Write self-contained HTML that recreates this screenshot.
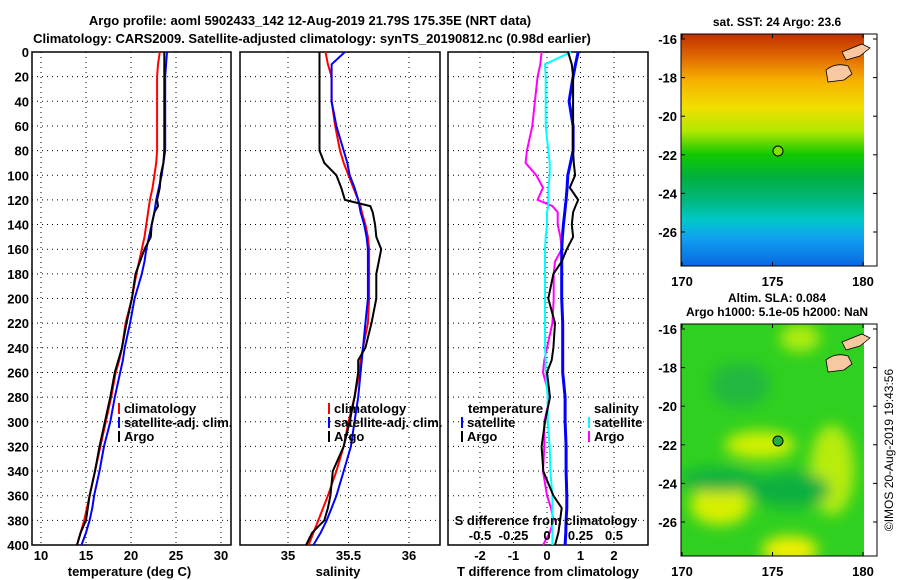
<!DOCTYPE html>
<html><head><meta charset="utf-8"><style>
body{margin:0;background:#fff;}
svg{display:block;font-family:"Liberation Sans",sans-serif;font-weight:bold;}
</style></head><body>
<svg id="c" width="900" height="580" xmlns="http://www.w3.org/2000/svg">
<defs>
<linearGradient id="sst" x1="0" y1="0" x2="0" y2="1">
<stop offset="0" stop-color="#c03000"/><stop offset="0.1" stop-color="#e06a00"/>
<stop offset="0.2" stop-color="#f8b000"/><stop offset="0.32" stop-color="#f0e000"/>
<stop offset="0.42" stop-color="#b0e800"/><stop offset="0.52" stop-color="#10c800"/>
<stop offset="0.62" stop-color="#00b040"/><stop offset="0.72" stop-color="#00b880"/>
<stop offset="0.8" stop-color="#00c8c8"/><stop offset="0.88" stop-color="#10a0f0"/>
<stop offset="1" stop-color="#0868e0"/></linearGradient>
<filter id="bl"><feGaussianBlur stdDeviation="7"/></filter>
<clipPath id="m2c"><rect x="681" y="324" width="183" height="232"/></clipPath>
</defs>
<text x="310" y="25" font-size="13" text-anchor="middle">Argo profile: aoml 5902433_142 12-Aug-2019 21.79S 175.35E (NRT data)</text>
<text x="312" y="43" font-size="13" text-anchor="middle">Climatology: CARS2009. Satellite-adjusted climatology: synTS_20190812.nc (0.98d earlier)</text>
<g id="plots"></g>
<g>
<text x="777" y="26" font-size="12" text-anchor="middle">sat. SST: 24 Argo: 23.6</text>
<rect x="681" y="34" width="183" height="232" fill="url(#sst)"/>
<path d="M826 70 q10-8 22-4 l4 8 -8 6 -16 2z M842 52 l20-8 8 4-10 8-14 4z" fill="#f8c8a0" stroke="#000" stroke-width="0.8"/>
<circle cx="778" cy="151" r="5" fill="#80e000" stroke="#000"/>
<rect x="681" y="34" width="196" height="232" fill="none" stroke="#000"/>
</g>
<g>
<text x="777" y="302" font-size="12" text-anchor="middle">Altim. SLA: 0.084</text>
<text x="777" y="316" font-size="12" text-anchor="middle">Argo h1000: 5.1e-05 h2000: NaN</text>
<rect x="681" y="324" width="183" height="232" fill="#30d020"/>
<g clip-path="url(#m2c)" filter="url(#bl)">
<ellipse cx="760" cy="445" rx="35" ry="14" fill="#d0f000"/>
<ellipse cx="832" cy="470" rx="22" ry="45" fill="#b8ec10"/>
<ellipse cx="720" cy="505" rx="30" ry="20" fill="#d8f000"/>
<ellipse cx="790" cy="550" rx="28" ry="14" fill="#f0f000"/>
<ellipse cx="800" cy="338" rx="20" ry="14" fill="#b0ec10"/>
<ellipse cx="720" cy="480" rx="40" ry="12" fill="#10b040"/>
<ellipse cx="790" cy="490" rx="40" ry="18" fill="#10b040"/>
<ellipse cx="740" cy="385" rx="30" ry="22" fill="#20b840"/>
</g>
<path d="M826 360 q10-8 22-4 l4 8 -8 6 -16 2z M842 342 l20-8 8 4-10 8-14 4z" fill="#f8c8a0" stroke="#000" stroke-width="0.8"/>
<circle cx="778" cy="441" r="5" fill="#20b040" stroke="#000"/>
<rect x="681" y="324" width="196" height="232" fill="none" stroke="#000"/>
</g>
<text transform="translate(893,450) rotate(-90)" font-size="12" font-weight="normal" text-anchor="middle">©IMOS 20-Aug-2019 19:43:56</text>
</svg>
<script>
const depths=[0,10,20,40,60,80,90,100,110,120,125,130,140,150,160,170,180,200,220,240,250,260,280,300,320,340,360,370,380,390,400];
const tClim=[23.2,23.0,22.9,22.9,22.9,22.9,22.8,22.6,22.4,22.1,22.0,21.9,21.7,21.5,21.2,20.9,20.6,20.1,19.4,19.0,18.7,18.3,17.8,17.2,16.6,16.0,15.4,15.1,14.8,14.4,14.0];
const tSat=[24.0,23.9,23.8,23.8,23.8,23.8,23.6,23.4,23.1,22.8,22.7,22.6,22.3,22.0,21.7,21.5,21.2,20.4,19.9,19.3,19.1,18.8,18.2,17.7,17.0,16.5,15.9,15.7,15.4,15.0,14.5];
const tArgo=[23.7,23.7,23.7,23.7,23.7,23.7,23.6,23.3,23.2,22.9,23.0,22.6,22.3,22.2,21.5,21.0,20.5,20.1,19.5,19.0,18.6,18.2,17.7,17.1,16.5,16.0,15.4,15.2,15.0,14.4,14.0];
const sClim=[35.31,35.33,35.36,35.36,35.39,35.43,35.46,35.50,35.54,35.58,35.60,35.61,35.64,35.66,35.67,35.67,35.67,35.67,35.66,35.62,35.60,35.59,35.55,35.50,35.46,35.40,35.33,35.29,35.25,35.21,35.17];
const sSat=[35.47,35.36,35.36,35.36,35.40,35.46,35.49,35.51,35.55,35.58,35.59,35.60,35.63,35.65,35.66,35.66,35.66,35.66,35.64,35.62,35.61,35.60,35.58,35.55,35.52,35.46,35.40,35.36,35.32,35.27,35.21];
const sArgo=[35.26,35.26,35.26,35.26,35.26,35.26,35.30,35.40,35.44,35.47,35.68,35.70,35.72,35.73,35.77,35.75,35.73,35.73,35.69,35.64,35.58,35.58,35.55,35.51,35.46,35.37,35.35,35.33,35.30,35.20,35.15];
const dTSat=[0.93,0.85,0.78,0.66,0.78,0.78,0.70,0.62,0.60,0.57,0.55,0.53,0.49,0.46,0.44,0.44,0.44,0.44,0.47,0.47,0.47,0.47,0.54,0.54,0.57,0.57,0.59,0.59,0.57,0.56,0.54];
const dTArgo=[0.63,0.74,0.78,0.78,0.78,0.78,0.80,0.84,0.68,0.93,0.85,0.78,0.74,0.78,0.59,0.44,0.19,0.04,0.24,0.19,0.14,0.00,0.09,-0.06,-0.16,-0.11,0.19,0.44,0.39,0.34,0.24];
const dSSat=[0.18,-0.015,-0.01,-0.01,-0.01,0.01,0.02,0.02,0.01,0.01,0.01,0.0,0.0,-0.01,-0.015,-0.015,-0.015,-0.015,-0.015,-0.015,-0.01,-0.01,0.005,0.005,0.02,0.025,0.04,0.04,0.04,0.04,0.04];
const dSArgo=[-0.04,-0.05,-0.07,-0.09,-0.11,-0.15,-0.16,-0.08,-0.03,-0.07,0.04,0.08,0.08,0.10,0.11,0.06,0.05,0.05,0.04,0.0,-0.02,-0.03,0.02,-0.02,-0.02,-0.03,0.0,0.03,0.05,0.02,-0.03];
const yTicks=[0,20,40,60,80,100,120,140,160,180,200,220,240,260,280,300,320,340,360,380,400];
const tTicks=[10,15,20,25,30];
const sTicks=[35,35.5,36];
const dTTicks=[-2,-1,0,1,2];
const dSTicks=[-0.5,-0.25,0,0.25,0.5];
const latTicks=[-16,-18,-20,-22,-24,-26];
const lonTicks=[170,175,180];

const NS='http://www.w3.org/2000/svg';
const svg=document.getElementById('c');
const g=document.getElementById('plots');
function el(t,a,p){const e=document.createElementNS(NS,t);for(const k in a)e.setAttribute(k,a[k]);(p||g).appendChild(e);return e;}
const Y0=52,Y1=545;
const yS=d=>Y0+(Y1-Y0)*d/400;
function scale(v0,p0,v1,p1){return v=>p0+(v-v0)*(p1-p0)/(v1-v0);}
const xT=scale(10,41,30,221), xS=scale(35,288,36,409), xD=scale(0,547,2,614), xDS=scale(0,547,0.5,614);

const panels=[
 {name:'temperature-panel',x0:32,x1:231,xs:xT,ticks:tTicks,lab:'temperature (deg C)'},
 {name:'salinity-panel',x0:240,x1:440,xs:xS,ticks:sTicks,lab:'salinity'},
 {name:'difference-panel',x0:448,x1:648,xs:xD,ticks:dTTicks,lab:'T difference from climatology'}];
panels.forEach((p,i)=>{
 const pg=el('g',{});
 
 
 yTicks.forEach(d=>{
  const l=el('line',{x1:p.x0,x2:p.x1,y1:yS(d),y2:yS(d),stroke:'#000','stroke-width':1,'stroke-dasharray':'1 4'},pg);
  
  
  if(i==0){const t=el('text',{x:29,y:yS(d)+5,'font-size':13,'text-anchor':'end'},pg);t.textContent=d;
   
   }
 });
 p.ticks.forEach(v=>{
  const x=p.xs(v);
  const l=el('line',{x1:x,x2:x,y1:Y0,y2:Y1,stroke:'#000','stroke-width':1,'stroke-dasharray':'1 4'},pg);
  
  
  const t=el('text',{x:x,y:560,'font-size':13,'text-anchor':'middle'},pg);t.textContent=v;
  
  
 });
 const r=el('rect',{x:p.x0,y:Y0,width:p.x1-p.x0,height:Y1-Y0,fill:'none',stroke:'#000','stroke-width':1.5},pg);
 
 
 const t=el('text',{x:(p.x0+p.x1)/2+(i==2?0:-2),y:576,'font-size':13,'text-anchor':'middle'},pg);t.textContent=p.lab;
 
 
});
function line(vals,xs,col,name,w){
 const pts=vals.map((v,i)=>xs(v).toFixed(1)+','+yS(depths[i]).toFixed(1)).join(' ');
 const l=el('polyline',{points:pts,fill:'none',stroke:col,'stroke-width':w||2});
 
 
}
line(tClim,xT,'#f00','temp-climatology-line');
line(tSat,xT,'#00f','temp-satellite-line');
line(tArgo,xT,'#000','temp-argo-line');
line(sClim,xS,'#f00','sal-climatology-line');
line(sSat,xS,'#00f','sal-satellite-line');
line(sArgo,xS,'#000','sal-argo-line');
line(dSArgo,xDS,'#f0f','sdiff-argo-line');
line(dSSat,xDS,'#0ff','sdiff-satellite-line');
line(dTSat,xD,'#00f','tdiff-satellite-line',3);
line(dTArgo,xD,'#000','tdiff-argo-line');
const st=el('text',{x:546,y:525,'font-size':13,'text-anchor':'middle'});st.textContent='S difference from climatology';


dSTicks.forEach(v=>{const t=el('text',{x:xDS(v),y:540,'font-size':13,'text-anchor':'middle'});t.textContent=v;
 
 });
function leg(x,y,col,txt,name){
 const m=el('rect',{x:x,y:y-10,width:2,height:11,fill:col});
 
 
 const t=el('text',{x:x+6,y:y,'font-size':13});t.textContent=txt;
 
 
}
[[118,'#f00','climatology'],[118,'#00f','satellite-adj. clim.'],[118,'#000','Argo']].forEach((a,i)=>leg(a[0],413+i*14,a[1],a[2],'legend-entry-t'));
[[328,'#f00','climatology'],[328,'#00f','satellite-adj. clim.'],[328,'#000','Argo']].forEach((a,i)=>leg(a[0],413+i*14,a[1],a[2],'legend-entry-s'));
const lt=el('text',{x:468,y:413,'font-size':13});lt.textContent='temperature';


const ls=el('text',{x:594,y:413,'font-size':13});ls.textContent='salinity';


leg(461,427,'#00f','satellite','legend-entry-tdiff');
leg(461,441,'#000','Argo','legend-entry-tdiff');
leg(588,427,'#0ff','satellite','legend-entry-sdiff');
leg(588,441,'#f0f','Argo','legend-entry-sdiff');
const latY=[scale(-16,39,-26,232),scale(-16,329,-26,522)];
const lonX=scale(170,682,180,863);
[[34,266,0],[324,556,1]].forEach(([top,bot,k])=>{
 latTicks.forEach(v=>{const y=latY[k](v);
  el('line',{x1:681,x2:685,y1:y,y2:y,stroke:'#000'},svg);
  el('line',{x1:873,x2:877,y1:y,y2:y,stroke:'#000'},svg);
  const t=el('text',{x:677,y:y+5,'font-size':13,'text-anchor':'end'},svg);t.textContent=v;
  
  });
 lonTicks.forEach(v=>{const x=lonX(v);
  el('line',{x1:x,x2:x,y1:bot-4,y2:bot,stroke:'#000'},svg);
  el('line',{x1:x,x2:x,y1:top,y2:top+4,stroke:'#000'},svg);
  const t=el('text',{x:x,y:bot+20,'font-size':13,'text-anchor':'middle'},svg);t.textContent=v;
  
  });
});
</script>
</body></html>
